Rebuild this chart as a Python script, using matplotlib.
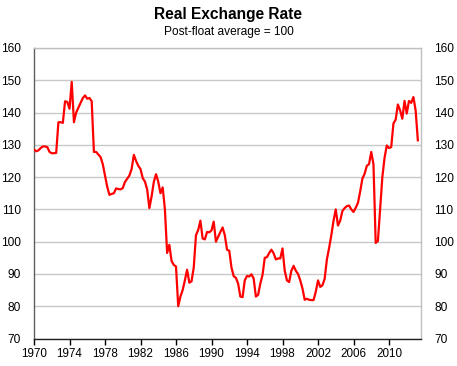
import matplotlib
matplotlib.use("Agg")
import matplotlib.pyplot as plt
from matplotlib import font_manager
import numpy as np

# Quarterly real exchange rate index (post-float average = 100), 1970Q1 - 2013Q2
start_year = 1970.0
rer = [
    128.5, 128.0, 128.3, 129.0,   # 1970
    129.5, 129.5, 129.3, 127.8,   # 1971
    127.4, 127.4, 127.5, 137.0,   # 1972
    137.0, 136.8, 143.5, 143.3,   # 1973
    141.2, 149.5, 137.0, 140.0,   # 1974
    141.5, 143.0, 144.5, 145.3,   # 1975
    144.3, 144.5, 143.5, 127.8,   # 1976
    127.8, 127.0, 126.2, 124.0,   # 1977
    120.5, 117.0, 114.5, 114.8,   # 1978
    115.0, 116.5, 116.3, 116.2,   # 1979
    116.6, 118.5, 119.5, 120.5,   # 1980
    122.5, 126.9, 125.0, 123.5,   # 1981
    122.5, 119.7, 118.6, 116.2,   # 1982
    110.4, 114.0, 118.5, 120.9,   # 1983
    118.6, 115.0, 116.8, 110.0,   # 1984
    96.5, 99.0, 94.0, 92.8,       # 1985
    92.3, 80.0, 83.0, 85.0,       # 1986
    88.0, 91.3, 87.3, 87.7,       # 1987
    92.0, 102.0, 103.6, 106.5,    # 1988
    101.0, 100.7, 103.0, 102.9,   # 1989
    103.5, 106.2, 100.0, 101.5,   # 1990
    103.0, 104.4, 102.0, 97.5,    # 1991
    97.2, 92.0, 89.3, 88.8,       # 1992
    87.0, 83.0, 82.8, 88.0,       # 1993
    89.4, 89.2, 89.9, 88.6,       # 1994
    83.0, 83.5, 87.0, 89.7,       # 1995
    95.0, 95.2, 96.5, 97.5,       # 1996
    96.4, 94.5, 94.8, 94.8,       # 1997
    97.9, 91.0, 88.0, 87.5,       # 1998
    91.0, 92.5, 91.0, 90.0,       # 1999
    88.0, 85.5, 82.0, 82.3,       # 2000
    82.0, 81.9, 81.9, 84.5,       # 2001
    88.0, 86.0, 86.5, 88.5,       # 2002
    94.5, 98.0, 102.0, 106.5,     # 2003
    110.0, 105.0, 106.5, 109.5,   # 2004
    110.4, 111.0, 111.2, 110.0,   # 2005
    109.2, 110.5, 112.0, 115.5,   # 2006
    119.5, 121.0, 123.5, 124.0,   # 2007
    127.8, 124.0, 99.6, 100.2,    # 2008
    110.0, 120.0, 126.0, 129.8,   # 2009
    129.0, 129.3, 136.6, 137.8,   # 2010
    142.5, 140.7, 138.1, 143.6,   # 2011
    139.7, 143.6, 143.0, 144.8,   # 2012
    140.7, 131.4,                 # 2013
]
dates = start_year + 0.25 * np.arange(len(rer))

xticks = [1970, 1974, 1978, 1982, 1986, 1990, 1994, 1998, 2002, 2006, 2010]
yticks = [70, 80, 90, 100, 110, 120, 130, 140, 150, 160]
title = "Real Exchange Rate"
subtitle = "Post-float average = 100"

available = {f.name for f in font_manager.fontManager.ttflist}
fam = ["Liberation Sans Narrow", "Liberation Sans", "DejaVu Sans"]
fam = [f for f in fam if f in available] + ["DejaVu Sans"]
plt.rcParams["font.family"] = fam

fig = plt.figure(figsize=(4.57, 3.66), dpi=100)
ax = fig.add_axes([34 / 457, 1 - 338.5 / 366, (421 - 34) / 457, (338.5 - 48) / 366])

ax.plot(dates, rer, color="#ff0000", lw=1.6, solid_joinstyle="round", zorder=3)

ax.set_xlim(1970, 1970 + (421 - 34) / 8.875)
ax.set_ylim(70, 160)
ax.set_yticks(yticks)
ax.set_xticks(xticks)
ax.set_xticklabels([str(t) for t in xticks])

ax.grid(axis="y", color="#c8c8c8", lw=1.0, zorder=0)
ax.grid(axis="x", visible=False)

for s in ["top", "right"]:
    ax.spines[s].set_color("#c0c0c0")
    ax.spines[s].set_linewidth(1.0)
ax.spines["left"].set_color("#606060")
ax.spines["bottom"].set_color("#202020")
ax.spines["left"].set_linewidth(1.0)
ax.spines["bottom"].set_linewidth(1.0)

ax.tick_params(axis="y", which="both", length=0, labelsize=8.6, pad=9.5,
               labelleft=True, labelright=True, colors="#000000")
ax.tick_params(axis="x", length=4, width=1, direction="out", labelsize=8.4,
               pad=3, colors="#000000")
for lbl in ax.get_yticklabels(which="both"):
    pass
ax.yaxis.set_tick_params(which="major", pad=9.5)
for t in ax.yaxis.get_major_ticks():
    t.set_pad(9.5)
    t.tick2line.set_visible(False)

fig.text(0.5, 1 - 15 / 366, title, ha="center", va="center",
         fontsize=11.2, fontweight="bold")
fig.text(0.5, 1 - 32 / 366, subtitle, ha="center", va="center", fontsize=8.6)

fig.savefig("out.png", dpi=100)
